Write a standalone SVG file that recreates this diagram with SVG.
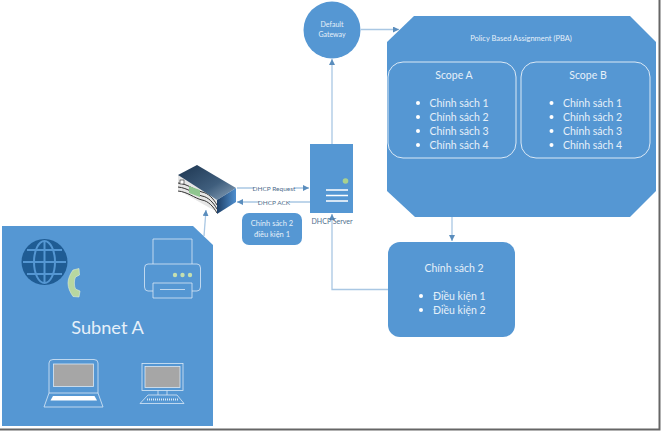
<svg xmlns="http://www.w3.org/2000/svg" width="661" height="432" viewBox="0 0 661 432">
<style>
.f{fill:#5597d3}
.o{fill:none;stroke:#dbe9f6;stroke-width:1}
.w{fill:#e6f0f9;font-family:Lato,"Liberation Sans",sans-serif;text-anchor:middle}
.l{fill:#e6f0f9;font-family:Lato,"Liberation Sans",sans-serif;font-size:10.500px}
.c{fill:none;stroke:#a9c7e3;stroke-width:1.300}
.d{fill:#4f6d8c;font-family:Lato,"Liberation Sans",sans-serif;font-size:6.500px;text-anchor:middle}
.b{fill:#fff}
.ic{fill:none;stroke:#dbe9f6;stroke-width:.8}
</style>
<defs>
<marker id="a" markerWidth="7" markerHeight="7" refX="6" refY="3" orient="auto" markerUnits="userSpaceOnUse"><path d="M0 0L6 3L0 6Z" fill="#5a8dbd"/></marker>
<linearGradient id="t" x1="0" y1="0" x2="1" y2="1"><stop offset="0" stop-color="#1d3550"/><stop offset=".6" stop-color="#3f5e7d"/><stop offset="1" stop-color="#8ea6bd"/></linearGradient>
<linearGradient id="s" x1="0" y1="0" x2="1" y2="0"><stop offset="0" stop-color="#1e3f66"/><stop offset="1" stop-color="#4f8fcf"/></linearGradient>
</defs>
<rect width="661" height="432" fill="#fff"/>
<path d="M659.500 0V429.500H0" fill="none" stroke="#666" stroke-width="2"/>

<g id="connectors">
<path class="c" d="M332 144V59" marker-end="url(#a)"/>
<path class="c" d="M361 29.500H399" marker-end="url(#a)"/>
<path class="c" d="M452 217V241" marker-end="url(#a)"/>
<path class="c" d="M388 289.500H332V214" marker-end="url(#a)"/>
<path class="c" d="M204 236L206 210" marker-end="url(#a)"/>
<path class="c" d="M237 188H309" marker-end="url(#a)"/>
<path class="c" d="M310 202H237" marker-end="url(#a)"/>
<g>
<rect x="254" y="185" width="40" height="6" fill="#fff"/>
<text class="d" x="274" y="190.500">DHCP Request</text>
<rect x="259" y="199" width="30" height="6" fill="#fff"/>
<text class="d" x="274" y="204.500">DHCP ACK</text>
</g>
</g>

<g id="subnet-a">
<path class="f" d="M2 226H193L213 245V426H2Z"/>
<text class="w" x="107.500" y="334" font-size="18.200">Subnet A</text>
<g id="globe">
<circle cx="44.500" cy="262" r="23" fill="#1f5c94"/>
<g fill="none" stroke="#5597d3" stroke-width="2">
<ellipse cx="44.500" cy="262" rx="10.500" ry="21"/>
<path d="M44.500 241V283M23 262H66M27 250H62M27 274H62"/>
</g>
</g>
<path d="M79 268.500L73 270C70 274 68 279 68 283C68 288 70 292 73 296.500L79 297L80 291L75.500 289C74 286 74 280 75.500 277L79.500 275Z" fill="#b7d7a0" stroke="#e2efd8" stroke-width=".6"/>
<g id="printer" class="ic">
<path d="M153 264V239H192V264"/>
<path d="M153 291H148Q144.500 291 144.500 287V268Q144.500 264 148 264H197Q200.500 264 200.500 268V287Q200.500 291 197 291H192"/>
<path d="M153 283H192V298H153Z"/>
<path d="M160 289.500H185"/>
<circle cx="175" cy="275" r="2.200" fill="#c5dfb0" stroke="none"/><circle cx="182.500" cy="275" r="2.200" fill="#c5dfb0" stroke="none"/><circle cx="190" cy="275" r="2.200" fill="#c5dfb0" stroke="none"/>
</g>
<g id="laptop" class="ic">
<path d="M49 393V363Q49 359.500 53 359.500H94Q98 359.500 98 363V393"/>
<rect x="53.500" y="364" width="40" height="22.500" fill="#a6a6a6"/>
<path d="M49 393L44 407H103L98 393Z"/>
<path d="M53 396H94.500L97 400.500H50.500Z" fill="#fff" stroke="none"/>
</g>
<g id="desktop" class="ic">
<rect x="142" y="363.500" width="41" height="27"/>
<rect x="145" y="366.500" width="35" height="21" fill="#a6a6a6"/>
<path d="M158 390.500V395M167 390.500V395M148 395H177L184 403.500H140Z"/>
<path d="M147 399.500H178" stroke-dasharray="1 1" stroke-width="2"/>
</g>
</g>

<g id="router">
<path d="M178 175L217 200V212L178 190Z" fill="#e6e6e6"/>
<path d="M178 183C188 184 194 190 202 192C208 193 213 198 217 205M178 187C188 188 194 194 202 196C208 197 213 202 217 209M178 191C188 192 194 198 202 200C208 201 213 206 217 213" fill="none" stroke="#333" stroke-width="1"/>
<path d="M178 175L197 165L236 188L217 200Z" fill="url(#t)"/>
<path d="M217 200L236 188V202L217 214Z" fill="url(#s)"/>
<rect x="180" y="180" width="4" height="4" fill="#fff" stroke="#222" stroke-width=".6"/>
<path d="M189 186L200 190V197L189 193Z" fill="#8fc68f"/>
</g>

<g id="dhcp-server">
<rect class="f" x="310" y="144" width="43" height="69"/>
<circle cx="345.500" cy="181" r="2.800" fill="#a9d18e"/>
<path d="M326 190H348M326 195.500H348M326 201H348" stroke="#fff" stroke-width="1.400"/>
<text class="d" x="332" y="224" style="font-size:7px">DHCP Server</text>
</g>

<g id="condition-note">
<rect class="f" x="242" y="213" width="60" height="32" rx="7"/>
<text class="w" font-size="7.500" x="272" y="226">Chính sách 2</text>
<text class="w" font-size="7.500" x="272" y="237">điều kiện 1</text>
</g>

<g id="default-gateway">
<circle class="f" cx="332" cy="30" r="28.500"/>
<text class="w" font-size="7" x="332" y="27">Default</text>
<text class="w" font-size="7" x="332" y="37">Gateway</text>
</g>

<g id="pba">
<path class="f" d="M414 16H630L656 42V191L630 217H415L387 191V42Z"/>
<text class="w" font-size="7.500" x="521" y="41">Policy Based Assignment (PBA)</text>
</g>

<g id="scope-a">
<rect class="o" x="388" y="62" width="128" height="96" rx="15"/>
<text class="w" font-size="10.500" x="454" y="79">Scope A</text>
<circle class="b" cx="418" cy="103" r="2"/><circle class="b" cx="418" cy="117" r="2"/><circle class="b" cx="418" cy="131" r="2"/><circle class="b" cx="418" cy="145" r="2"/>
<text class="l" x="429.500" y="107">Chính sách 1</text>
<text class="l" x="429.500" y="121">Chính sách 2</text>
<text class="l" x="429.500" y="135">Chính sách 3</text>
<text class="l" x="429.500" y="149">Chính sách 4</text>
</g>

<g id="scope-b">
<rect class="o" x="521" y="62" width="129" height="96" rx="15"/>
<text class="w" font-size="10.500" x="588" y="79">Scope B</text>
<circle class="b" cx="551.500" cy="103" r="2"/><circle class="b" cx="551.500" cy="117" r="2"/><circle class="b" cx="551.500" cy="131" r="2"/><circle class="b" cx="551.500" cy="145" r="2"/>
<text class="l" x="563" y="107">Chính sách 1</text>
<text class="l" x="563" y="121">Chính sách 2</text>
<text class="l" x="563" y="135">Chính sách 3</text>
<text class="l" x="563" y="149">Chính sách 4</text>
</g>

<g id="policy-2">
<rect class="f" x="388" y="242" width="127" height="95" rx="12"/>
<text class="w" font-size="10.500" x="454" y="272">Chính sách 2</text>
<circle class="b" cx="421" cy="296" r="2"/><circle class="b" cx="421" cy="310" r="2"/>
<text class="l" x="433" y="300">Điều kiện 1</text>
<text class="l" x="433" y="314">Điều kiện 2</text>
</g>
</svg>
